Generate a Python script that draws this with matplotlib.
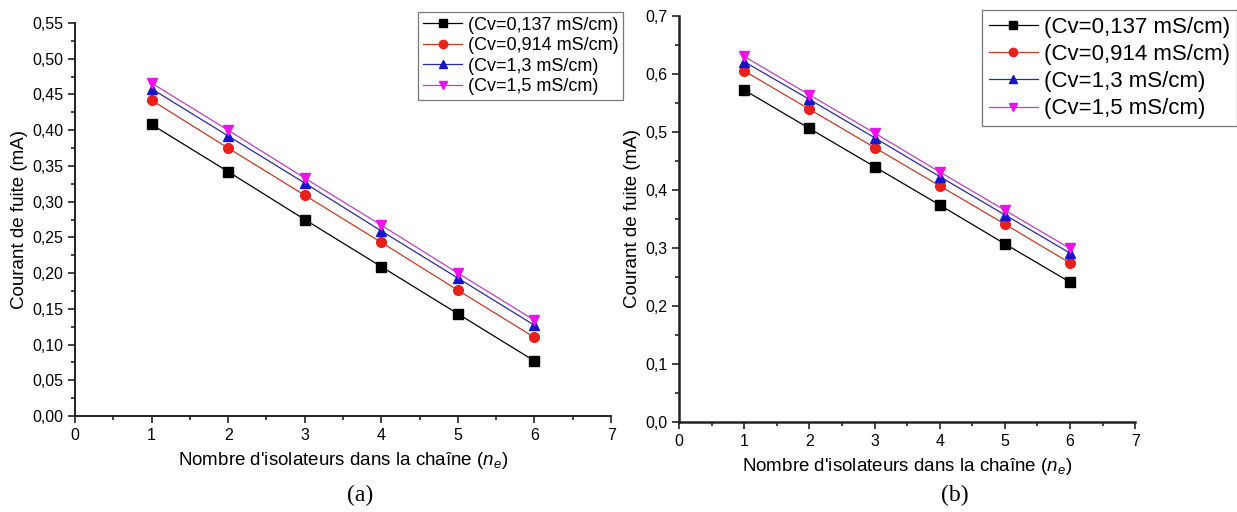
import matplotlib
matplotlib.use("Agg")
import matplotlib.pyplot as plt
from matplotlib.ticker import MultipleLocator, FuncFormatter

plt.rcParams["font.family"] = ["Liberation Sans", "DejaVu Sans"]
plt.rcParams["mathtext.fontset"] = "custom"
plt.rcParams["mathtext.it"] = "Liberation Sans:italic"
plt.rcParams["mathtext.rm"] = "Liberation Sans"

n_isol = [1, 2, 3, 4, 5, 6]
labels = ["(Cv=0,137 mS/cm)", "(Cv=0,914 mS/cm)", "(Cv=1,3 mS/cm)", "(Cv=1,5 mS/cm)"]

# (a)
i_a_0137 = [0.408, 0.342, 0.275, 0.209, 0.143, 0.077]
i_a_0914 = [0.442, 0.375, 0.309, 0.243, 0.176, 0.110]
i_a_13 = [0.458, 0.392, 0.326, 0.259, 0.193, 0.127]
i_a_15 = [0.466, 0.400, 0.333, 0.267, 0.200, 0.134]

# (b)
i_b_0137 = [0.572, 0.506, 0.440, 0.374, 0.307, 0.241]
i_b_0914 = [0.605, 0.539, 0.473, 0.407, 0.341, 0.274]
i_b_13 = [0.621, 0.556, 0.490, 0.423, 0.357, 0.291]
i_b_15 = [0.630, 0.564, 0.498, 0.431, 0.365, 0.299]

styles = [("black", "s"), ("#e8211c", "o"), ("#1616c8", "^"), ("#ee11ee", "v")]
line_cols = ["black", "#c83a2a", "#2a2aa0", "#c040c0"]


def comma(dec):
    return FuncFormatter(lambda v, p: f"{v:.{dec}f}".replace(".", ","))


def panel(ax, series, ymax, ymaj, dec, lw_spine):
    for ys, (mc, mk), lc, lab in zip(series, styles, line_cols, labels):
        ax.plot(n_isol, ys, color=lc, lw=0.9, marker=mk, ms=7,
                mfc=mc, mec=mc, label=lab)
    ax.set_xlim(0, 7)
    ax.set_ylim(0, ymax)
    ax.xaxis.set_major_locator(MultipleLocator(1))
    ax.xaxis.set_minor_locator(MultipleLocator(0.5))
    ax.yaxis.set_major_locator(MultipleLocator(ymaj))
    ax.yaxis.set_minor_locator(MultipleLocator(ymaj / 2))
    ax.yaxis.set_major_formatter(comma(dec))
    ax.spines["top"].set_visible(False)
    ax.spines["right"].set_visible(False)
    for s in ("left", "bottom"):
        ax.spines[s].set_linewidth(lw_spine)
        ax.spines[s].set_color("#222222")
    ax.tick_params(which="major", direction="out", length=5, width=1.2,
                   labelsize=11.5, color="#222222")
    ax.tick_params(which="minor", direction="out", length=3, width=1.2,
                   color="#222222")
    ax.set_xlabel("Nombre d'isolateurs dans la chaîne ($n_e$)", fontsize=13.5,
                  labelpad=5)
    ax.set_ylabel("Courant de fuite (mA)", fontsize=13.5, labelpad=3)


fig = plt.figure(figsize=(12.37, 5.12), dpi=100)
ax1 = fig.add_axes([0.0606, 0.1875, 0.4334, 0.7675])
ax2 = fig.add_axes([0.549, 0.176, 0.3686, 0.793])

panel(ax1, [i_a_0137, i_a_0914, i_a_13, i_a_15], 0.55, 0.05, 2, 1.4)
panel(ax2, [i_b_0137, i_b_0914, i_b_13, i_b_15], 0.7, 0.1, 1, 1.8)

leg1 = ax1.legend(loc="upper right", bbox_to_anchor=(623 / 1237, 1 - 12 / 512),
                  bbox_transform=fig.transFigure, fontsize=13, frameon=True,
                  fancybox=False, borderpad=0.25, labelspacing=0.2,
                  handlelength=2.2, handletextpad=0.3, borderaxespad=0)
leg2 = ax2.legend(loc="upper right", bbox_to_anchor=(1.0, 1 - 10 / 512),
                  bbox_transform=fig.transFigure, fontsize=16, frameon=True,
                  fancybox=False, borderpad=0.3, labelspacing=0.28,
                  handlelength=2.2, handletextpad=0.3, borderaxespad=0)
for leg in (leg1, leg2):
    leg.get_frame().set_edgecolor("#555555")
    leg.get_frame().set_linewidth(0.9)
    for h in leg.legend_handles:
        h.set_markersize(6)

fig.text(360 / 1237, 1 - 495 / 512, "(a)", ha="center", va="center",
         fontsize=17, family="Liberation Serif")
fig.text(955 / 1237, 1 - 495 / 512, "(b)", ha="center", va="center",
         fontsize=17, family="Liberation Serif")

fig.savefig("out.png", dpi=100)
